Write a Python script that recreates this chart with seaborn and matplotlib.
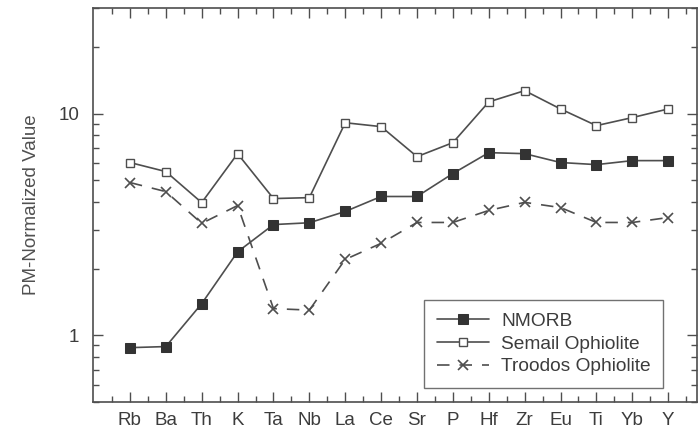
import numpy as np
import pandas as pd
import matplotlib
matplotlib.use("Agg")
import matplotlib.pyplot as plt
from matplotlib.ticker import FixedLocator, LogLocator, NullFormatter, FixedFormatter
import seaborn as sns

# --- data ---
elements = ["Rb", "Ba", "Th", "K", "Ta", "Nb", "La", "Ce",
            "Sr", "P", "Hf", "Zr", "Eu", "Ti", "Yb", "Y"]
nmorb = [0.88, 0.89, 1.39, 2.38, 3.16, 3.22, 3.62, 4.23,
         4.23, 5.37, 6.67, 6.60, 6.02, 5.89, 6.14, 6.14]
semail = [6.02, 5.48, 3.97, 6.60, 4.14, 4.18, 9.10, 8.74,
          6.40, 7.40, 11.3, 12.7, 10.5, 8.83, 9.60, 10.5]
troodos = [4.89, 4.45, 3.20, 3.85, 1.32, 1.30, 2.20, 2.60,
           3.23, 3.23, 3.66, 3.98, 3.77, 3.23, 3.23, 3.40]
series_names = ["NMORB", "Semail Ophiolite", "Troodos Ophiolite"]
y_ticks = [1, 10]
y_tick_labels = ["1", "10"]

df = pd.DataFrame({"element": elements, "NMORB": nmorb,
                   "Semail Ophiolite": semail, "Troodos Ophiolite": troodos})
long = df.melt(id_vars="element", var_name="series", value_name="value")

sns.set_style("ticks")
plt.rcParams["font.family"] = ["Liberation Sans", "DejaVu Sans"]

INK = "#4e4e4e"
TXT = "#3c3c3c"

fig = plt.figure(figsize=(6.99, 4.38), dpi=100)
ax = fig.add_axes([0.133, 0.082, 0.864, 0.900])

styles = {
    "NMORB": dict(marker="s", markersize=7, markerfacecolor="#333333",
                  markeredgecolor="#333333", linestyle="-"),
    "Semail Ophiolite": dict(marker="s", markersize=5.2, markerfacecolor="white",
                             markeredgecolor=INK, markeredgewidth=1.0, linestyle="-"),
    "Troodos Ophiolite": dict(marker="x", markersize=7.5, markeredgewidth=1.2,
                              markeredgecolor=INK, linestyle=(0, (7.5, 6))),
}
for name in series_names:
    sub = long[long["series"] == name]
    sns.lineplot(data=sub, x="element", y="value", sort=False, ax=ax,
                 color=INK, linewidth=1.2, label=name, **styles[name])

ax.set_yscale("log")
ax.set_ylim(0.5, 30)
ax.set_xlim(-1.03, 15.8)

ax.yaxis.set_major_locator(FixedLocator(y_ticks))
ax.yaxis.set_major_formatter(FixedFormatter(y_tick_labels))
ax.yaxis.set_minor_locator(LogLocator(base=10, subs=np.arange(2, 10)))
ax.yaxis.set_minor_formatter(NullFormatter())

ax.set_xticks(range(len(elements)))
ax.set_xticklabels(elements)
ax.set_xticks(np.arange(-0.5, len(elements), 1.0), minor=True)

ax.tick_params(which="both", direction="in", top=True, right=True,
               color=INK, width=1.0)
ax.tick_params(which="major", length=7.5)
ax.tick_params(which="minor", length=4)
ax.tick_params(axis="x", which="major", pad=7, labelsize=13.5, labelcolor=TXT)
ax.tick_params(axis="y", which="major", pad=10, labelsize=13.5, labelcolor=TXT)

for sp in ax.spines.values():
    sp.set_color(INK)
    sp.set_linewidth(1.2)

ax.set_xlabel("")
ax.set_ylabel("PM-Normalized Value", fontsize=13.5, color="#505050")
ax.yaxis.set_label_coords(-0.088, 0.5)

leg = ax.legend(loc="lower right", bbox_to_anchor=(0.944, 0.036),
                frameon=True, fancybox=False, fontsize=13.8,
                handlelength=2.75, handletextpad=0.6, labelspacing=0.28,
                borderpad=0.65, borderaxespad=0)
leg.get_frame().set_edgecolor(INK)
leg.get_frame().set_linewidth(1.0)
for t in leg.get_texts():
    t.set_color(TXT)

fig.savefig("out.png", dpi=100)
